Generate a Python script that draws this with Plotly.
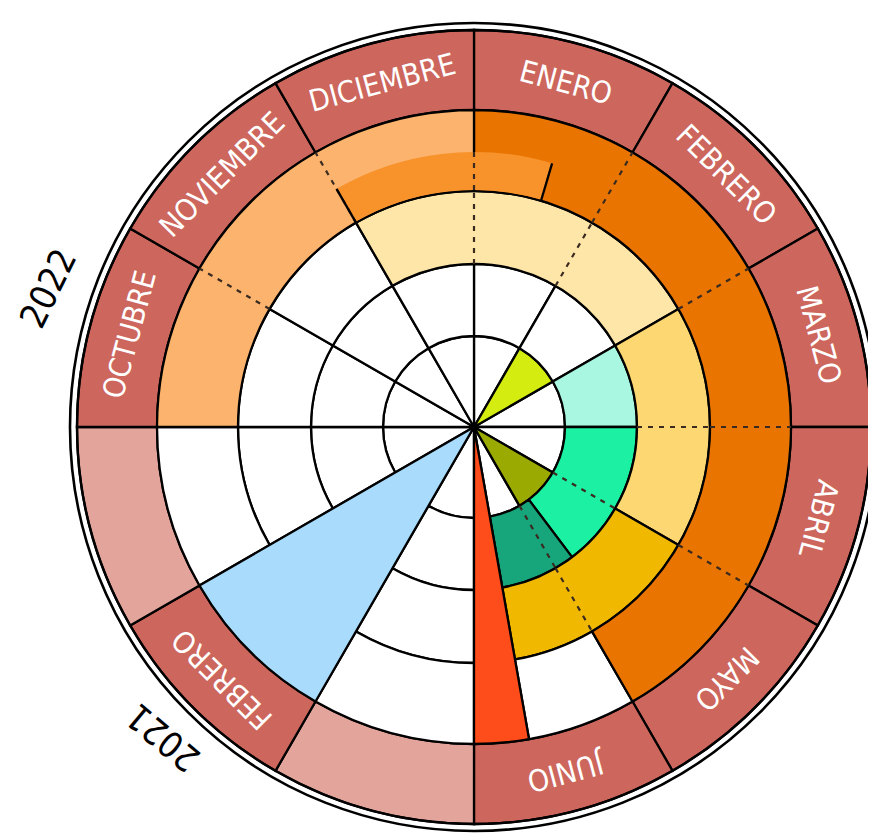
import math
import plotly.graph_objects as go

# ---------------- data ----------------
ring_edges = [0, 91, 163, 236, 317, 397]   # radial boundaries (rings 0..3 + label ring)
outer_edge = 404                           # outer double line

month_labels = ["ENERO", "FEBRERO", "MARZO", "ABRIL", "MAYO", "JUNIO",
                "", "FEBRERO", "", "OCTUBRE", "NOVIEMBRE", "DICIEMBRE"]

# coloured spans inside the rings: (ring, start deg, end deg, category)
ring_spans = [
    (0, 30, 60, "yg"), (0, 120, 150, "olive"),
    (1, 60, 90, "mint"), (1, 90, 143, "green"), (1, 143, 170, "teal"),
    (2, 330, 420, "paleyellow"), (2, 60, 120, "yellow"), (2, 120, 170, "gold"),
    (3, 0, 150, "darkorange"), (3, 270, 360, "lightorange"),
]
# wedges crossing rings 0..3: (start deg, end deg, category)
wedges = [(170, 180, "red"), (210, 240, "blue")]
# accent arc: (start deg, end deg, inner r, outer r)
band = (330, 376.5, 237, 275)

year_labels = ["2022", "2021"]
year_pos = [(448, 288), (440, 225)]   # (radius, compass angle)

# ---------------- styles ----------------
colors = {
    "yg": "#D5EC11", "olive": "#9BAA00", "mint": "#A9F7E1", "green": "#1CF0A3",
    "teal": "#17A67C", "paleyellow": "#FEE6A9", "yellow": "#FDD771", "gold": "#F1B800",
    "darkorange": "#E97500", "lightorange": "#FBB36D", "red": "#FF4C1B", "blue": "#A9DCFC",
    "band": "#F8932B", "label": "#CD665C", "label_light": "#E3A49C", "white": "#FFFFFF",
}
LINE_W = 2.3

def norm_intervals(a, b):
    """split interval that may wrap past 360 into [0,360) pieces"""
    out = []
    if b > 360:
        out.append((a, 360))
        out.append((0, b - 360))
    else:
        out.append((a, b))
    return [iv for iv in out if iv[1] > iv[0]]

def subtract(iv, covers):
    pieces = [iv]
    for c0, c1 in covers:
        nxt = []
        for p0, p1 in pieces:
            if c1 <= p0 or c0 >= p1:
                nxt.append((p0, p1))
            else:
                if c0 > p0:
                    nxt.append((p0, c0))
                if c1 < p1:
                    nxt.append((c1, p1))
        pieces = nxt
    return pieces

thetas, widths, bases, rs, cols = [], [], [], [], []

def add_bar(a, b, r0, r1, col):
    thetas.append((a + b) / 2.0)
    widths.append(b - a)
    bases.append(r0)
    rs.append(r1 - r0)
    cols.append(col)

# label ring
for k, lab in enumerate(month_labels):
    add_bar(30 * k, 30 * (k + 1), ring_edges[4], ring_edges[5],
            colors["label"] if lab else colors["label_light"])

# rings 0..3: white cells + coloured spans
for ring in range(4):
    covers = []
    for (rg, a, b, cat) in ring_spans:
        if rg == ring:
            covers += norm_intervals(a, b)
    for (a, b, cat) in wedges:
        covers.append((a, b))
    for k in range(12):
        for (p0, p1) in subtract((30 * k, 30 * (k + 1)), covers):
            add_bar(p0, p1, ring_edges[ring], ring_edges[ring + 1], colors["white"])
    for (rg, a, b, cat) in ring_spans:
        if rg == ring:
            add_bar(a, b, ring_edges[ring], ring_edges[ring + 1], colors[cat])

for (a, b, cat) in wedges:
    add_bar(a, b, 0, ring_edges[4], colors[cat])

fig = go.Figure()
fig.add_trace(go.Barpolar(
    theta=thetas, width=widths, base=bases, r=rs,
    marker=dict(color=cols, line=dict(color="black", width=LINE_W)),
    hoverinfo="skip", showlegend=False))

# accent band (no outline)
fig.add_trace(go.Barpolar(
    theta=[(band[0] + band[1]) / 2], width=[band[1] - band[0]],
    base=[band[2]], r=[band[3] - band[2]],
    marker=dict(color=colors["band"], line=dict(width=0)),
    hoverinfo="skip", showlegend=False))

# dashed month separators inside coloured spans
dash_segments = []
for (rg, a, b, cat) in ring_spans:
    m = (int(a // 30) + 1) * 30
    while m < b:
        dash_segments.append((m % 360, ring_edges[rg], ring_edges[rg + 1]))
        m += 30
m = (int(band[0] // 30) + 1) * 30
while m < band[1]:
    dash_segments.append((m % 360, band[2], band[3]))
    m += 30
for (ang, r0, r1) in dash_segments:
    fig.add_trace(go.Scatterpolar(
        theta=[ang, ang], r=[r0, r1], mode="lines",
        line=dict(color="#3a2a20", width=2.2, dash="5px,6px"),
        hoverinfo="skip", showlegend=False))

# solid ends of accent band
for ang in (band[0], band[1]):
    fig.add_trace(go.Scatterpolar(
        theta=[ang % 360, ang % 360], r=[band[2] - 1, band[3]], mode="lines",
        line=dict(color="black", width=LINE_W),
        hoverinfo="skip", showlegend=False))

# label ring outer line (inner line of double circle)
circ = list(range(0, 361, 2))
fig.add_trace(go.Scatterpolar(
    theta=circ, r=[ring_edges[5]] * len(circ), mode="lines",
    line=dict(color="black", width=2.4), hoverinfo="skip", showlegend=False))

# ---------------- text ----------------
def paper_xy(r, ang):
    t = math.radians(ang)
    return 0.5 + 0.5 * r / outer_edge * math.sin(t), 0.5 + 0.5 * r / outer_edge * math.cos(t)

annotations = []
label_r = (ring_edges[4] + ring_edges[5]) / 2
for k, lab in enumerate(month_labels):
    if not lab:
        continue
    ang = 30 * k + 15
    x, y = paper_xy(label_r, ang)
    ta = ang if ang <= 180 else ang - 360
    annotations.append(dict(
        x=x, y=y, xref="paper", yref="paper", text=lab, showarrow=False,
        textangle=ta, xanchor="center", yanchor="middle",
        font=dict(family="Liberation Sans Narrow, DejaVu Sans Condensed, sans-serif",
                  size=30, color="white")))

for lab, (r, ang) in zip(year_labels, year_pos):
    x, y = paper_xy(r, ang)
    ta = ang if ang <= 180 else ang - 360
    annotations.append(dict(
        x=x, y=y, xref="paper", yref="paper", text=lab, showarrow=False,
        textangle=ta + 8 if lab == "2022" else ta - 5, xanchor="center", yanchor="middle",
        font=dict(family="DejaVu Sans Condensed, sans-serif", size=36, color="black")))

fig.update_layout(
    width=876, height=835,
    margin=dict(l=62, r=6, t=15, b=12, pad=0),
    paper_bgcolor="white",
    showlegend=False,
    annotations=annotations,
    polar=dict(
        domain=dict(x=[0, 1], y=[0, 1]),
        bgcolor="white",
        hole=0,
        bargap=0,
        angularaxis=dict(rotation=90, direction="clockwise", showgrid=False,
                         showticklabels=False, ticks="", showline=True,
                         linecolor="black", linewidth=2.6),
        radialaxis=dict(range=[0, outer_edge], visible=False, showgrid=False,
                        showline=False, showticklabels=False, ticks=""),
    ),
)

fig.write_html("out.html")
